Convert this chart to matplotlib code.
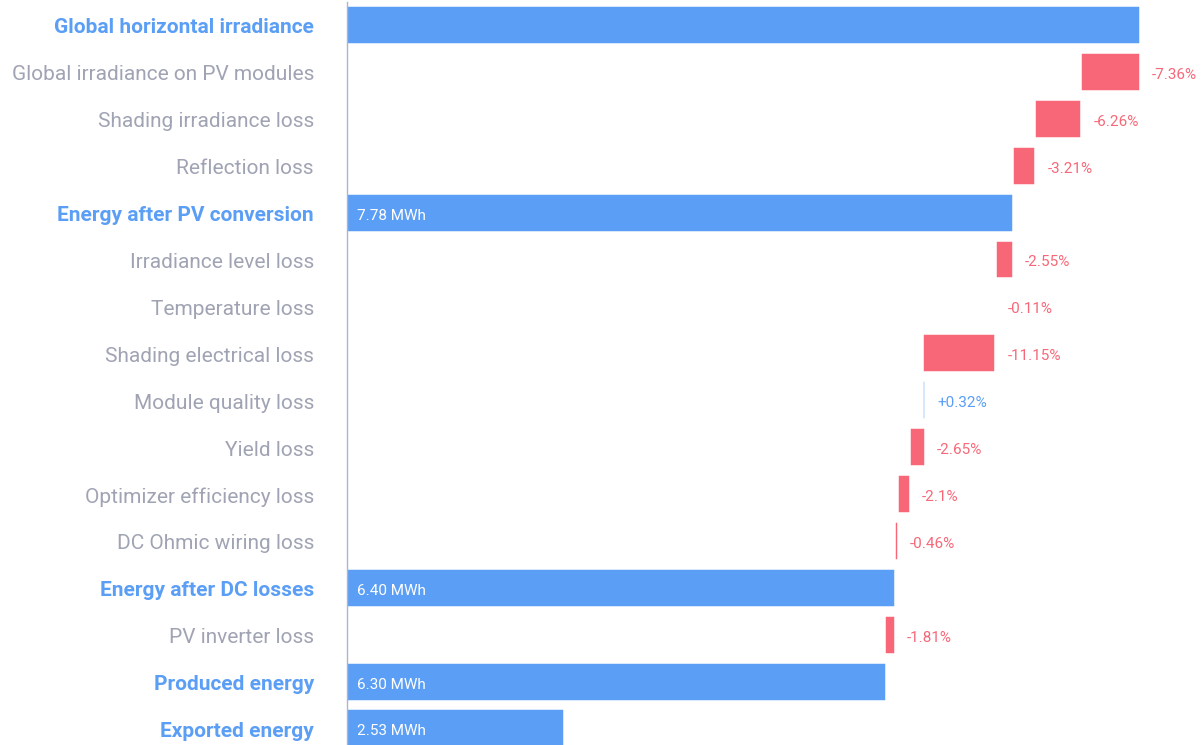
import matplotlib.pyplot as plt
from matplotlib.transforms import ScaledTranslation, blended_transform_factory

plt.rcParams['font.family'] = ['Roboto', 'DejaVu Sans']

# categories top to bottom
labels = ["Global horizontal irradiance", "Global irradiance on PV modules",
          "Shading irradiance loss", "Reflection loss", "Energy after PV conversion",
          "Irradiance level loss", "Temperature loss", "Shading electrical loss",
          "Module quality loss", "Yield loss", "Optimizer efficiency loss",
          "DC Ohmic wiring loss", "Energy after DC losses", "PV inverter loss",
          "Produced energy", "Exported energy"]
# totals in MWh (None = step row)
totals = [9.26, None, None, None, 7.78, None, None, None, None, None, None, None,
          6.40, None, 6.30, 2.53]
# percentage change for step rows
changes = [None, -7.36, -6.26, -3.21, None, -2.55, -0.11, -11.15, 0.32, -2.65,
           -2.1, -0.46, None, -1.81, None, None]
show_total_label = [False, False, False, False, True, False, False, False, False,
                    False, False, False, True, False, True, True]

blue = "#5b9ef5"
red = "#f76778"
grey = "#a0a3b3"

fig = plt.figure(figsize=(12.04, 7.45), dpi=100)
ax = fig.add_axes([347 / 1204, 0, 1 - 347 / 1204, 1])
down = ScaledTranslation(0, -3 / 100, fig.dpi_scale_trans)
lab_tr = blended_transform_factory(ax.transAxes, ax.transData) + down

level = 0
for i, lab in enumerate(labels):
    is_total = totals[i] is not None
    ax.text(-33 / 857, i, lab, fontsize=15, ha="right", va="center",
            color=blue if is_total else grey,
            fontweight="bold" if is_total else "normal", transform=lab_tr)
    if is_total:
        level = totals[i]
        ax.barh(i, level, height=0.81, left=0, color=blue, edgecolor="white", linewidth=1.1)
        if show_total_label[i]:
            ax.text(0.12, i, f"{level:.2f} MWh", color="white", fontsize=11,
                    va="center", ha="left", transform=ax.transData + down)
    else:
        pct = changes[i]
        new = level * (1 + pct / 100)
        left = min(level, new)
        w = abs(new - level)
        c = red if pct < 0 else blue
        ax.barh(i, w, height=0.81, left=left, color=c, edgecolor="white", linewidth=1.1)
        txt = f"{pct:+g}%" if pct > 0 else f"{pct:g}%"
        ax.text(max(level, new) + 0.14, i, txt, color=c, fontsize=11,
                va="center", ha="left", transform=ax.transData + down)
        level = new

ax.set_ylim(15.352, -0.533)
ax.set_xlim(0, 10.01)
ax.set_yticks([])
ax.set_xticks([])
for s in ["top", "right", "bottom"]:
    ax.spines[s].set_visible(False)
ax.spines["left"].set_color("#aab6cf")
ax.spines["left"].set_linewidth(1)
ax.spines["left"].set_bounds(15.5, -0.48)

fig.savefig("out.png", dpi=100)
